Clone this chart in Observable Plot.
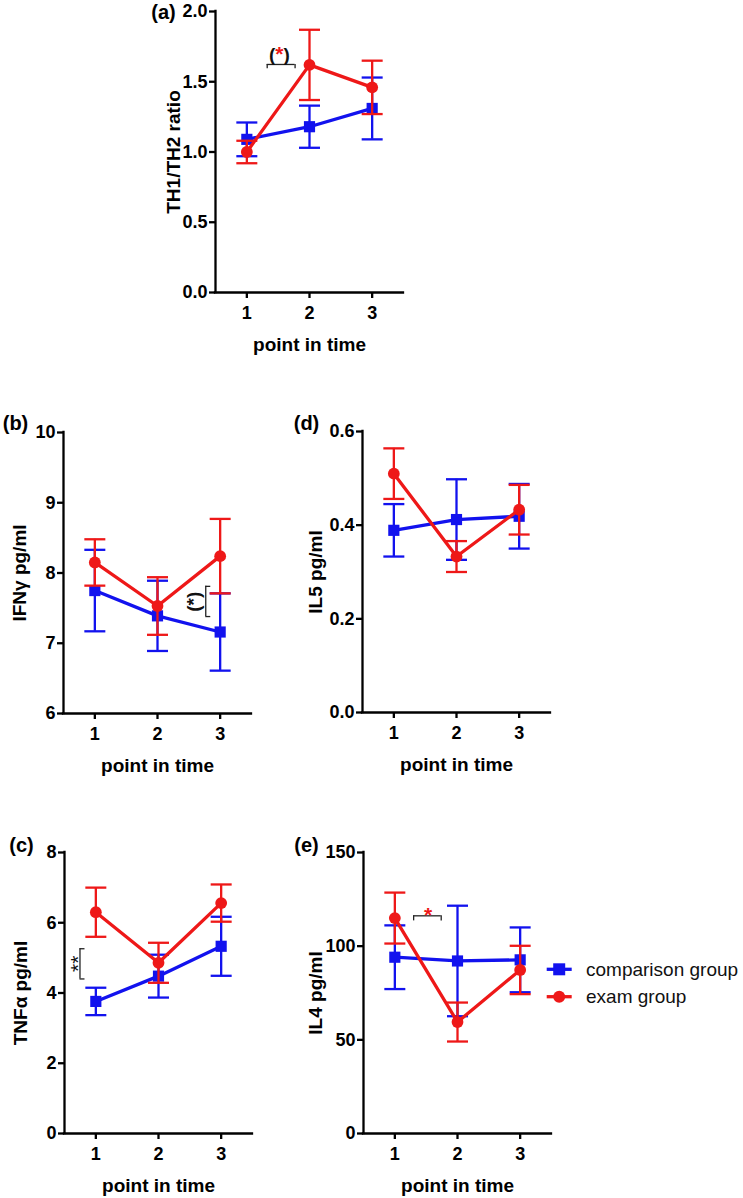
<!DOCTYPE html>
<html>
<head>
<meta charset="utf-8">
<script src="https://cdn.jsdelivr.net/npm/d3@7"></script>
<script src="https://cdn.jsdelivr.net/npm/@observablehq/plot@0.6"></script>
<style>
  html, body { margin: 0; padding: 0; background: #ffffff; }
  #root { position: relative; width: 743px; height: 1198px; overflow: hidden; background: #ffffff;
          font-family: "Liberation Sans", Arial, sans-serif; }
  .panel { position: absolute; }
</style>
</head>
<body>
<div id="root"></div>
<script>
// ---------------- data ----------------
const timePoints = [1, 2, 3];
const groups = ["comparison group", "exam group"];
const xLabel = "point in time";

// (a) TH1/TH2 ratio
const th1th2Comparison = [1.09, 1.18, 1.31];
const th1th2ComparisonSem = [0.12, 0.15, 0.22];
const th1th2Exam = [1.00, 1.62, 1.46];
const th1th2ExamSem = [0.08, 0.25, 0.19];
const th1th2Ticks = [0, 0.5, 1.0, 1.5, 2.0];

// (b) IFNγ pg/ml
const ifngComparison = [7.75, 7.39, 7.16];
const ifngComparisonSem = [0.58, 0.50, 0.55];
const ifngExam = [8.15, 7.53, 8.24];
const ifngExamSem = [0.33, 0.41, 0.53];
const ifngTicks = [6, 7, 8, 9, 10];

// (c) TNFα pg/ml
const tnfaComparison = [3.76, 4.48, 5.33];
const tnfaComparisonSem = [0.39, 0.61, 0.84];
const tnfaExam = [6.30, 4.86, 6.56];
const tnfaExamSem = [0.70, 0.57, 0.53];
const tnfaTicks = [0, 2, 4, 6, 8];

// (d) IL5 pg/ml
const il5Comparison = [0.389, 0.412, 0.419];
const il5ComparisonSem = [0.056, 0.086, 0.069];
const il5Exam = [0.510, 0.333, 0.433];
const il5ExamSem = [0.054, 0.033, 0.053];
const il5Ticks = [0, 0.2, 0.4, 0.6];

// (e) IL4 pg/ml
const il4Comparison = [94.1, 92.1, 92.7];
const il4ComparisonSem = [17.0, 29.5, 17.3];
const il4Exam = [115.0, 59.5, 87.3];
const il4ExamSem = [13.6, 10.4, 12.9];
const il4Ticks = [0, 50, 100, 150];

// significance annotations (data units)
const sigHorizontal = [
  {panel: "a", x1: 1.325, x2: 1.77, y: 1.623, drop: 0.031},
  {panel: "e", x1: 1.30, x2: 1.74, y: 116.2, drop: 2.7}
];
const sigVertical = [
  {panel: "b", x1: 2.77, x2: 2.85, y1: 7.38, y2: 7.81},
  {panel: "c", x1: 0.747, x2: 0.827, y1: 4.40, y2: 5.26}
];
const sigText = [
  {panel: "a", x: 1.52, y: 1.694, text: "(", color: "black", rotate: 0, weight: "bold"},
  {panel: "a", x: 1.52, y: 1.694, text: "*", color: "red", rotate: 0, weight: "bold"},
  {panel: "a", x: 1.52, y: 1.694, text: ")", color: "black", rotate: 0, weight: "bold"},
  {panel: "b", x: 2.574, y: 7.59, text: "(*)", color: "black", rotate: -90, weight: "bold"},
  {panel: "c", x: 0.634, y: 4.83, text: "**", color: "black", rotate: -90, weight: "normal"},
  {panel: "e", x: 1.53, y: 119.4, text: "*", color: "red", rotate: 0, weight: "bold"}
];
// horizontal glyph offsets (px) for the split "(*)"
const glyphShift = {"(": -7.2, ")": 7.2};

// ---------------- styling ----------------
const BLUE = "#1212ee";
const RED = "#ee1818";
const FONT = '"Liberation Sans", Arial, sans-serif';
const ML = 75, MR = 25, MT = 25, MB = 75;
const FW = 188, FH = 281;

const panels = [
  {tag: "(a)", ylabel: "TH1/TH2 ratio", left: 215, top: 11, yTicks: th1th2Ticks, fmt: d3.format(".1f"),
   means: [th1th2Comparison, th1th2Exam], sems: [th1th2ComparisonSem, th1th2ExamSem],
   ylabelDx: -42, tagDx: -52, tagDy: 1},
  {tag: "(b)", ylabel: "IFNγ pg/ml", left: 63, top: 432, yTicks: ifngTicks, fmt: d3.format("d"),
   means: [ifngComparison, ifngExam], sems: [ifngComparisonSem, ifngExamSem],
   ylabelDx: -44, tagDx: -48, tagDy: -9},
  {tag: "(c)", ylabel: "TNFα pg/ml", left: 64, top: 852, yTicks: tnfaTicks, fmt: d3.format("d"),
   means: [tnfaComparison, tnfaExam], sems: [tnfaComparisonSem, tnfaExamSem],
   ylabelDx: -44, tagDx: -43, tagDy: -7},
  {tag: "(d)", ylabel: "IL5 pg/ml", left: 362, top: 431, yTicks: il5Ticks, fmt: d3.format(".1f"),
   means: [il5Comparison, il5Exam], sems: [il5ComparisonSem, il5ExamSem],
   ylabelDx: -47, tagDx: -56, tagDy: -8},
  {tag: "(e)", ylabel: "IL4 pg/ml", left: 363, top: 852, yTicks: il4Ticks, fmt: d3.format("d"),
   means: [il4Comparison, il4Exam], sems: [il4ComparisonSem, il4ExamSem],
   ylabelDx: -48, tagDx: -57, tagDy: -7}
];

const capSymbol = {
  draw(context) { context.moveTo(-10.5, 0); context.lineTo(10.5, 0); }
};

const root = document.getElementById("root");

panels.forEach(p => {
  const key = p.tag[1];
  const rows = [];
  groups.forEach((g, gi) => timePoints.forEach((t, i) =>
    rows.push({group: g, t, mean: p.means[gi][i], sem: p.sems[gi][i]})));
  const yDomain = [p.yTicks[0], p.yTicks[p.yTicks.length - 1]];
  const xDomain = [0.5, 3.5];

  const seriesMarks = [];
  groups.forEach((g, gi) => {
    const data = rows.filter(d => d.group === g);
    const color = gi === 0 ? BLUE : RED;
    seriesMarks.push(
      Plot.ruleX(data, {x: "t", y1: d => d.mean - d.sem, y2: d => d.mean + d.sem, stroke: color, strokeWidth: 2.3}),
      Plot.dot(data, {x: "t", y: d => d.mean + d.sem, symbol: capSymbol, r: 5, fill: "none", stroke: color, strokeWidth: 2.3}),
      Plot.dot(data, {x: "t", y: d => d.mean - d.sem, symbol: capSymbol, r: 5, fill: "none", stroke: color, strokeWidth: 2.3}),
      Plot.line(data, {x: "t", y: "mean", stroke: color, strokeWidth: 3.3}),
      Plot.dot(data, {x: "t", y: "mean", symbol: gi === 0 ? "square" : "circle",
                      r: gi === 0 ? 6.3 : 5.9, fill: color, stroke: "none"})
    );
  });

  const sh = sigHorizontal.filter(d => d.panel === key);
  const sv = sigVertical.filter(d => d.panel === key);
  const st = sigText.filter(d => d.panel === key);

  const annotationMarks = [
    Plot.ruleY(sh, {y: "y", x1: "x1", x2: "x2", stroke: "#222", strokeWidth: 1.3}),
    Plot.ruleX(sh, {x: "x1", y1: d => d.y - d.drop, y2: "y", stroke: "#222", strokeWidth: 1.3}),
    Plot.ruleX(sh, {x: "x2", y1: d => d.y - d.drop, y2: "y", stroke: "#222", strokeWidth: 1.3}),
    Plot.ruleX(sv, {x: "x1", y1: "y1", y2: "y2", stroke: "#222", strokeWidth: 1.3}),
    Plot.ruleY(sv, {y: "y1", x1: "x1", x2: "x2", stroke: "#222", strokeWidth: 1.3}),
    Plot.ruleY(sv, {y: "y2", x1: "x1", x2: "x2", stroke: "#222", strokeWidth: 1.3}),
    ...st.map(d => Plot.text([d], {
      x: "x", y: "y", text: "text", fill: d.color === "red" ? RED : "#111",
      rotate: d.rotate,
      dx: d.rotate === -90 && d.text === "**" ? 5 : (glyphShift[d.text] || 0),
      dy: d.rotate === 0 && d.text === "*" && key === "e" ? 5 : 0,
      textAnchor: "middle", lineAnchor: "middle",
      fontSize: d.text === "*" || d.text === "**" ? 21 : 19, fontWeight: d.weight
    }))
  ];

  const chart = Plot.plot({
    width: ML + FW + MR,
    height: MT + FH + MB,
    marginLeft: ML, marginRight: MR, marginTop: MT, marginBottom: MB,
    style: {fontFamily: FONT, background: "transparent", overflow: "visible", color: "#000"},
    x: {domain: xDomain},
    y: {domain: yDomain},
    marks: [
      Plot.axisX({ticks: timePoints, tickFormat: d => String(d), tickSize: 6, tickPadding: 8,
                  fontSize: 18, fontWeight: "bold", strokeWidth: 2.3, label: null, fill: "#000"}),
      Plot.axisY({ticks: p.yTicks, tickFormat: p.fmt, tickSize: 6, tickPadding: 2,
                  fontSize: 18, fontWeight: "bold", strokeWidth: 2.3, label: null, fill: "#000"}),
      Plot.ruleY([yDomain[0]], {stroke: "#000", strokeWidth: 2.3, strokeLinecap: "square"}),
      Plot.ruleX([xDomain[0]], {stroke: "#000", strokeWidth: 2.3, strokeLinecap: "square"}),
      ...seriesMarks,
      ...annotationMarks,
      Plot.text([xLabel], {frameAnchor: "bottom", dy: 52, text: d => d, textAnchor: "middle", lineAnchor: "middle",
                           fontSize: 19, fontWeight: "bold", fill: "#000"}),
      Plot.text([p.ylabel], {frameAnchor: "left", dx: p.ylabelDx, rotate: -90, text: d => d,
                             textAnchor: "middle", lineAnchor: "middle",
                             fontSize: 19, fontWeight: "bold", fill: "#000"}),
      Plot.text([p.tag], {frameAnchor: "top-left", dx: p.tagDx, dy: p.tagDy, text: d => d,
                          textAnchor: "middle", lineAnchor: "middle",
                          fontSize: 20, fontWeight: "bold", fill: "#000"})
    ]
  });
  const wrap = document.createElement("div");
  wrap.className = "panel";
  wrap.style.left = (p.left - ML) + "px";
  wrap.style.top = (p.top - MT) + "px";
  wrap.appendChild(chart);
  root.appendChild(wrap);
});

// ---------------- legend ----------------
const legend = d3.create("svg").attr("width", 210).attr("height", 70)
  .style("position", "absolute").style("left", "540px").style("top", "950px").style("overflow", "visible");
groups.forEach((g, i) => {
  const color = i === 0 ? BLUE : RED;
  const y = 19.3 + i * 27.4;
  legend.append("line").attr("x1", 6.7).attr("x2", 31.7).attr("y1", y).attr("y2", y)
    .attr("stroke", color).attr("stroke-width", 3.3);
  if (i === 0) {
    legend.append("rect").attr("x", 19.2 - 6).attr("y", y - 6).attr("width", 12).attr("height", 12).attr("fill", color);
  } else {
    legend.append("circle").attr("cx", 19.2).attr("cy", y).attr("r", 6).attr("fill", color);
  }
  legend.append("text").attr("x", 46).attr("y", y).attr("dy", "0.35em")
    .attr("font-family", FONT).attr("font-size", 19).attr("fill", "#111").text(g);
});
root.appendChild(legend.node());
</script>
</body>
</html>
